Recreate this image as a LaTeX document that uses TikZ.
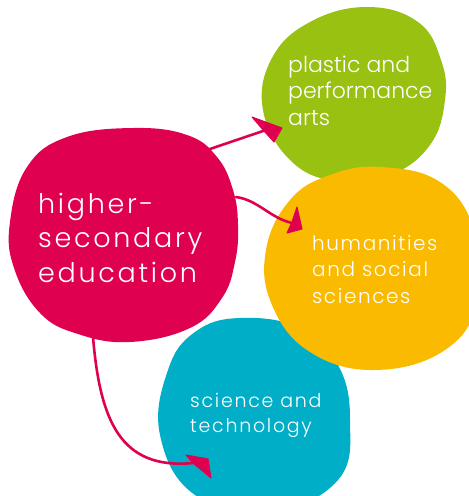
\documentclass[tikz,border=0pt]{standalone}
\usepackage{fontspec}
\setmainfont{Poppins Light}
\definecolor{pinkc}{RGB}{224,0,80}
\definecolor{greenc}{RGB}{152,193,18}
\definecolor{orangec}{RGB}{250,186,0}
\definecolor{tealc}{RGB}{0,174,199}
\tikzset{
  blobtext/.style={text=white, align=left, anchor=base west, inner sep=0pt},
  link/.style={draw=pinkc, line width=2.6pt, line cap=round},
  headshape/.style={fill=pinkc, draw=pinkc, line width=1pt, line join=round}
}
\begin{document}
\begin{tikzpicture}[x=1pt,y=-1pt]
\useasboundingbox (0,0) rectangle (469,496);
\clip (0,0) rectangle (469,496);
% blobs
\fill[greenc] plot[smooth cycle, tension=0.7] coordinates {(367,7) (418,22) (441,60) (445,100) (430,145) (390,175) (335,181) (290,160) (263,110) (272,58) (310,22)};
\fill[tealc] plot[smooth cycle, tension=0.7] coordinates {(240,318) (300,328) (338,365) (350,420) (338,480) (270,512) (195,495) (160,435) (168,370) (195,332)};
\fill[orangec] plot[smooth cycle, tension=0.7] coordinates {(380,167) (440,182) (474,230) (478,300) (445,350) (375,370) (310,352) (272,305) (266,250) (290,200) (330,175)};
\fill[pinkc] plot[smooth cycle, tension=0.7] coordinates {(133,128) (187,135) (217,157) (233,190) (238,225) (235,262) (222,298) (190,328) (130,342) (78,334) (40,313) (14,268) (10,222) (27,167) (67,137)};
% text
\node[blobtext, font=\fontsize{27}{34.5}\selectfont\addfontfeatures{LetterSpace=10}] (hse) at (38,282) {higher-\\secondary\\education};
\node[blobtext, font=\fontsize{22}{26.5}\selectfont] (arts) at (288,125) {plastic and\\performance\\arts};
\node[blobtext, font=\fontsize{20}{26.5}\selectfont\addfontfeatures{LetterSpace=8}] (hum) at (312,303) {humanities\\and social\\sciences};
\node[blobtext, font=\fontsize{19}{25}\selectfont\addfontfeatures{LetterSpace=9}] (sci) at (190,432) {science and\\technology};
% connectors
\coordinate (s1) at (207,150);
\coordinate (e1) at (266,130);
\coordinate (s2) at (236,197);
\coordinate (e2) at (292,223);
\coordinate (s3) at (93,337);
\coordinate (e3) at (193,463);
\draw[link] (s1) -- (e1);
\fill[headshape] (252,117) -- (282,128) -- (274,142) -- (264,131) -- cycle;
\draw[link] (s2) .. controls (258,200) and (270,218) .. (e2);
\fill[headshape] (297,207) -- (302,229) -- (287,233) -- (292,222) -- cycle;
\draw[link] (s3) .. controls (100,420) and (120,470) .. (e3);
\fill[headshape] (186,455) -- (208,459) -- (211,478) -- (193,463) -- cycle;
\end{tikzpicture}
\end{document}
